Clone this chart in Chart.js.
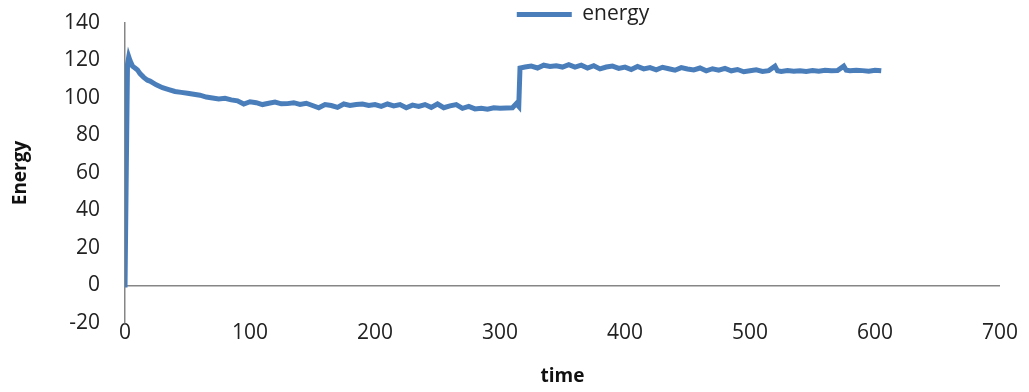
<!DOCTYPE html>
<html>
<head>
<meta charset="utf-8">
<script src="https://cdn.jsdelivr.net/npm/chart.js@4/dist/chart.umd.min.js"></script>
<style>
  html, body { margin: 0; padding: 0; background: #fff; }
  #wrap { width: 1029px; height: 392px; }
</style>
</head>
<body>
<div id="wrap"><canvas id="c" width="1029" height="392"></canvas></div>
<script>
// values
const time = [0, 1, 2, 3, 4, 6, 8, 10, 12, 15, 18, 20, 25, 30, 35, 40, 45, 50, 55, 60,
  65, 70, 75, 80, 85, 90, 95, 100, 105, 110, 115, 120, 125, 130, 135, 140, 145, 150, 155, 160,
  165, 170, 175, 180, 185, 190, 195, 200, 205, 210, 215, 220, 225, 230, 235, 240, 245, 250, 255, 260,
  265, 270, 275, 280, 285, 290, 295, 300, 305, 310, 313, 315, 316, 320, 325, 330, 335, 340, 345, 350,
  355, 360, 365, 370, 375, 380, 385, 390, 395, 400, 405, 410, 415, 420, 425, 430, 435, 440, 445, 450,
  455, 460, 465, 470, 475, 480, 485, 490, 495, 500, 505, 510, 515, 520, 522, 525, 530, 535, 540, 545,
  550, 555, 560, 565, 570, 575, 577, 580, 585, 590, 595, 600, 605];
const energy = [-1, 60, 118, 122, 120, 117, 116, 115, 113, 111, 109.5, 109, 107, 105.5, 104.5, 103.5, 103, 102.5, 102, 101.5,
  100.5, 100, 99.5, 99.8, 99, 98.5, 96.8, 98, 97.5, 96.5, 97.2, 97.8, 96.9, 97, 97.5, 96.6, 97.2, 96, 94.8, 96.5,
  96, 95, 96.8, 96, 96.5, 96.8, 96, 96.5, 95.5, 96.8, 95.8, 96.5, 94.8, 96.2, 95.5, 96.5, 95, 96.8, 94.8, 95.8,
  96.5, 94.5, 95.5, 94.2, 94.5, 94, 94.8, 94.5, 94.7, 94.8, 97, 95.5, 116, 116.5, 117, 116, 117.5, 116.8, 117.2, 116.5,
  117.8, 116.5, 117.5, 116, 117.2, 115.5, 116.5, 117, 115.8, 116.5, 115.2, 116.8, 115.5, 116.2, 115, 116.4, 115.6, 114.8, 116.2, 115.5,
  115, 116, 114.5, 115.6, 114.8, 115.8, 114.5, 115.2, 114, 114.5, 115, 114.2, 114.6, 117, 114.5, 114.2, 114.6, 114.3, 114.5, 114.2,
  114.6, 114.3, 114.8, 114.5, 114.6, 117, 114.8, 114.5, 114.8, 114.6, 114.3, 114.8, 114.5];
const seriesName = "energy";
const xTitle = "time";
const yTitle = "Energy";

const FONT = "'Open Sans', 'Liberation Sans', sans-serif";
const BLUE = "#4a7ebb";
const AXIS = "#868686";

// legend is squeezed into the top margin and sits right of centre, like the original
const legendShift = {
  id: "legendShift",
  beforeLayout(chart) {
    const lg = chart.legend;
    if (lg && !lg._squeezed) {
      const fit = lg.fit;
      lg.fit = function () {
        fit.call(this);
        this.height = 23;
      };
      lg._squeezed = true;
    }
  },
  afterLayout(chart) {
    const lg = chart.legend;
    lg.left += 83;
    lg.right += 83;
    lg.top += 4;
    lg.bottom += 4;
  }
};

new Chart(document.getElementById("c"), {
  type: "line",
  data: {
    datasets: [{
      label: seriesName,
      data: time.map((t, i) => ({ x: t, y: energy[i] })),
      borderColor: BLUE,
      backgroundColor: BLUE,
      borderWidth: 5,
      pointRadius: 0,
      tension: 0,
      fill: false
    }]
  },
  options: {
    responsive: false,
    animation: false,
    layout: { padding: { left: 0, right: 29, top: 0, bottom: 0 } },
    plugins: {
      tooltip: { enabled: false },
      legend: {
        position: "top",
        labels: {
          usePointStyle: true,
          pointStyle: "line",
          pointStyleWidth: 55,
          padding: 0,
          color: "#222",
          font: { family: FONT, size: 21, lineHeight: 1.1 }
        }
      }
    },
    scales: {
      x: {
        type: "linear",
        min: 0,
        max: 700,
        ticks: { stepSize: 100, padding: -3, color: "#222", font: { family: FONT, size: 21 } },
        grid: { display: false, drawTicks: false },
        border: { display: false },
        title: { display: true, text: xTitle, color: "#111", padding: { top: 0, bottom: 4 },
                 font: { family: FONT, size: 19, weight: "bold" } },
        afterFit(scale) { scale.height = 69; }
      },
      y: {
        min: -20,
        max: 140,
        ticks: { stepSize: 20, padding: 25, color: "#222", font: { family: FONT, size: 21 } },
        grid: {
          drawTicks: false,
          color: (ctx) => (ctx.tick && ctx.tick.value === 0 ? AXIS : "transparent"),
          lineWidth: 1.5
        },
        border: { display: true, color: AXIS, width: 1.5 },
        title: { display: true, text: yTitle, color: "#111", padding: { top: 9, bottom: 0 },
                 font: { family: FONT, size: 19, weight: "bold" } },
        afterFit(scale) {
          scale.width = 125;
          // tick padding is horizontal here, don't let it push the plot down
          scale.paddingTop = 12;
          scale.paddingBottom = 12;
        }
      }
    }
  },
  plugins: [legendShift]
});
</script>
</body>
</html>
